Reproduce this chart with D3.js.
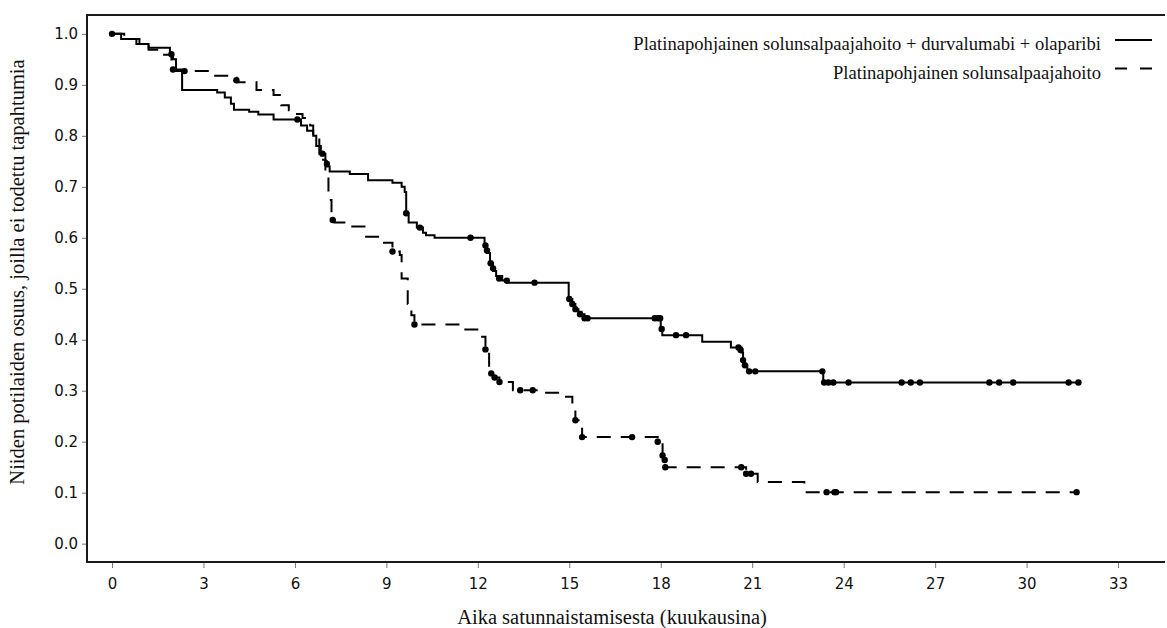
<!DOCTYPE html>
<html>
<head>
<meta charset="utf-8">
<script src="https://cdn.jsdelivr.net/npm/d3@7"></script>
<style>
  html, body { margin: 0; padding: 0; background: #fff; }
  svg { display: block; }
  .tick-label { font-family: "DejaVu Sans", sans-serif; font-size: 15px; fill: #111; }
  .title { font-family: "Liberation Serif", "Times New Roman", serif; font-size: 20.5px; fill: #111; }
  .legend-text { font-family: "Liberation Serif", "Times New Roman", serif; font-size: 18.6px; fill: #111; }
</style>
</head>
<body>
<svg id="chart" width="1167" height="628"></svg>
<script>
// x ticks (months) and y ticks (proportion)
var xTicks = [0, 3, 6, 9, 12, 15, 18, 21, 24, 27, 30, 33];
var yTicks = [0.0, 0.1, 0.2, 0.3, 0.4, 0.5, 0.6, 0.7, 0.8, 0.9, 1.0];

var legendLabels = [
  'Platinapohjainen solunsalpaajahoito + durvalumabi + olaparibi',
  'Platinapohjainen solunsalpaajahoito'
];

// combination arm: [time, survival after the step]
var comboSteps = [
  [0, 1.0], [0.3, 0.99], [0.8, 0.98], [1.2, 0.973], [1.9, 0.96], [2.0, 0.95], [2.1, 0.93],
  [2.3, 0.89], [3.45, 0.885], [3.7, 0.875], [3.9, 0.863], [4.0, 0.851], [4.5, 0.847],
  [4.8, 0.842], [5.3, 0.832], [6.2, 0.82], [6.4, 0.81], [6.6, 0.80], [6.7, 0.78],
  [6.8, 0.765], [7.0, 0.75], [7.05, 0.74], [7.14, 0.73], [7.8, 0.725], [8.4, 0.713],
  [9.2, 0.708], [9.5, 0.70], [9.6, 0.69], [9.65, 0.648], [9.73, 0.63], [10.0, 0.62],
  [10.2, 0.61], [10.3, 0.605], [10.58, 0.60], [12.22, 0.585], [12.3, 0.57], [12.4, 0.55],
  [12.5, 0.535], [12.6, 0.525], [12.8, 0.516], [12.95, 0.512], [14.98, 0.48], [15.1, 0.47],
  [15.2, 0.46], [15.3, 0.455], [15.4, 0.45], [15.5, 0.442], [18.0, 0.421], [18.05, 0.409],
  [19.36, 0.396], [20.3, 0.385], [20.65, 0.375], [20.7, 0.36], [20.75, 0.35], [20.84, 0.338],
  [23.33, 0.316]
];
var comboEnd = 31.7;
var comboCensored = [
  [0, 1.0], [1.95, 0.96], [6.08, 0.832], [6.9, 0.765], [7.05, 0.745], [9.65, 0.648],
  [10.1, 0.62], [11.76, 0.60], [12.25, 0.585], [12.3, 0.575], [12.42, 0.55], [12.5, 0.54],
  [12.7, 0.52], [12.95, 0.516], [13.86, 0.512], [15.0, 0.48], [15.1, 0.47], [15.2, 0.46],
  [15.35, 0.45], [15.5, 0.442], [15.6, 0.442], [17.8, 0.442], [17.9, 0.442], [17.98, 0.442],
  [18.03, 0.421], [18.5, 0.409], [18.83, 0.409], [20.55, 0.385], [20.62, 0.38], [20.7, 0.36],
  [20.76, 0.35], [20.9, 0.338], [21.1, 0.338], [23.3, 0.338], [23.36, 0.316], [23.5, 0.316],
  [23.66, 0.316], [24.16, 0.316], [25.9, 0.316], [26.2, 0.316], [26.5, 0.316], [28.78, 0.316],
  [29.1, 0.316], [29.56, 0.316], [31.38, 0.316], [31.7, 0.316]
];

// chemotherapy arm
var chemoSteps = [
  [0, 1.0], [0.4, 0.99], [0.9, 0.98], [1.2, 0.969], [1.6, 0.959], [1.95, 0.945],
  [2.0, 0.927], [3.35, 0.918], [4.1, 0.905], [4.74, 0.89], [5.3, 0.88], [5.55, 0.86],
  [5.8, 0.85], [5.98, 0.843], [6.25, 0.835], [6.5, 0.82], [6.6, 0.80], [6.8, 0.78],
  [6.85, 0.753], [7.0, 0.72], [7.1, 0.674], [7.2, 0.64], [7.3, 0.63], [7.73, 0.622],
  [8.28, 0.602], [8.88, 0.59], [9.2, 0.573], [9.44, 0.566], [9.5, 0.52], [9.7, 0.47],
  [9.82, 0.448], [9.92, 0.43], [11.5, 0.42], [12.06, 0.406], [12.25, 0.381], [12.37, 0.34],
  [12.5, 0.326], [12.71, 0.317], [13.15, 0.301], [14.02, 0.296], [14.84, 0.288], [15.1, 0.272],
  [15.2, 0.242], [15.42, 0.209], [17.9, 0.2], [18.06, 0.173], [18.13, 0.164], [18.15, 0.150],
  [20.8, 0.137], [21.18, 0.121], [22.71, 0.101]
];
var chemoEnd = 31.64;
var chemoCensored = [
  [2.0, 0.93], [2.38, 0.927], [4.08, 0.909], [7.24, 0.635], [9.2, 0.573], [9.92, 0.43],
  [12.25, 0.381], [12.44, 0.334], [12.55, 0.326], [12.71, 0.317], [13.39, 0.301], [13.8, 0.301],
  [15.2, 0.242], [15.42, 0.209], [17.06, 0.209], [17.9, 0.2], [18.06, 0.173], [18.13, 0.164],
  [18.15, 0.150], [20.64, 0.150], [20.8, 0.137], [20.96, 0.137], [23.44, 0.101], [23.7, 0.101],
  [23.75, 0.101], [31.64, 0.101]
];

var svg = d3.select('#chart');

var x = d3.scaleLinear().domain([-0.82, 34.54]).range([87, 1165]);
var y = d3.scaleLinear().domain([-0.036, 1.037]).range([562, 15]);

// frame: top, left, bottom (right side runs off the picture)
svg.append('path')
  .attr('d', 'M' + x.range()[1] + ',' + y.range()[1] + 'H' + x.range()[0] + 'V' + y.range()[0] + 'H' + x.range()[1])
  .attr('fill', 'none')
  .attr('stroke', '#1a1a1a')
  .attr('stroke-width', 2);

var xAxis = svg.append('g').attr('transform', 'translate(0,' + (y.range()[0] + 1) + ')')
  .call(d3.axisBottom(x).tickValues(xTicks).tickSize(5).tickPadding(10).tickFormat(d3.format('d')));
var yAxis = svg.append('g').attr('transform', 'translate(' + (x.range()[0] - 1) + ',0)')
  .call(d3.axisLeft(y).tickValues(yTicks).tickSize(4).tickPadding(4).tickFormat(d3.format('.1f')));

[xAxis, yAxis].forEach(function (g) {
  g.select('.domain').remove();
  g.selectAll('.tick line').attr('stroke', '#777');
  g.selectAll('.tick text').attr('class', 'tick-label').attr('font-family', null).attr('font-size', null);
});

svg.append('text')
  .attr('class', 'title')
  .attr('x', 612)
  .attr('y', 624)
  .attr('text-anchor', 'middle')
  .text('Aika satunnaistamisesta (kuukausina)');

svg.append('text')
  .attr('class', 'title')
  .attr('transform', 'translate(24,272) rotate(-90)')
  .attr('text-anchor', 'middle')
  .text('Niiden potilaiden osuus, joilla ei todettu tapahtumia');

var line = d3.line()
  .x(function (d) { return x(d[0]); })
  .y(function (d) { return y(d[1]); })
  .curve(d3.curveStepAfter);

function drawArm(steps, end, censored, dash) {
  var pts = steps.concat([[end, steps[steps.length - 1][1]]]);
  svg.append('path')
    .datum(pts)
    .attr('d', line)
    .attr('fill', 'none')
    .attr('stroke', '#000')
    .attr('stroke-width', 2)
    .attr('stroke-dasharray', dash);

  svg.append('g').selectAll('circle').data(censored).enter().append('circle')
    .attr('cx', function (d) { return x(d[0]); })
    .attr('cy', function (d) { return y(d[1]); })
    .attr('r', 3.2)
    .attr('fill', '#000');
}

drawArm(comboSteps, comboEnd, comboCensored, null);
drawArm(chemoSteps, chemoEnd, chemoCensored, '14,10');

// legend
var legend = svg.append('g');
legendLabels.forEach(function (label, i) {
  var ly = 40 + i * 28.5;
  legend.append('text')
    .attr('class', 'legend-text')
    .attr('x', 1101)
    .attr('y', ly + 10)
    .attr('text-anchor', 'end')
    .text(label);
  legend.append('line')
    .attr('x1', 1115).attr('x2', 1152)
    .attr('y1', ly).attr('y2', ly)
    .attr('stroke', '#000')
    .attr('stroke-width', 2)
    .attr('stroke-dasharray', i === 0 ? null : '12,13');
});
</script>
</body>
</html>
